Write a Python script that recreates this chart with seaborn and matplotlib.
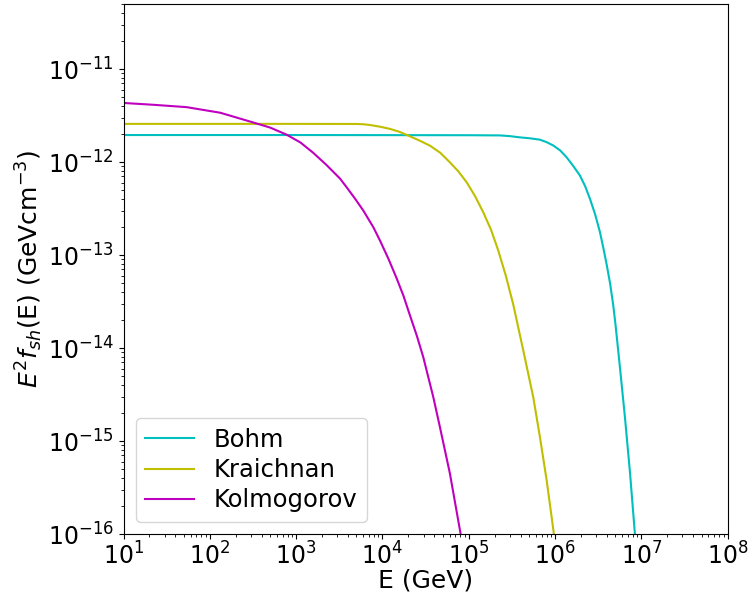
import numpy as np
import pandas as pd
import matplotlib
matplotlib.use("Agg")
import matplotlib.pyplot as plt
import seaborn as sns

# log10(E / GeV) and log10(E^2 f_sh / GeV cm^-3) for each diffusion model
bohm_log_e = [1.0, 3.0, 5.0, 5.363, 5.48, 5.594, 5.71, 5.826, 5.90, 5.980,
              6.06, 6.136, 6.21, 6.290, 6.35, 6.406, 6.465, 6.522, 6.56,
              6.599, 6.64, 6.676, 6.703, 6.753, 6.811, 6.869, 6.927]
bohm_log_f = [-11.710, -11.710, -11.712, -11.714, -11.722, -11.735, -11.745,
              -11.760, -11.785, -11.822, -11.875, -11.950, -12.040, -12.146,
              -12.260, -12.396, -12.560, -12.755, -12.920, -13.100, -13.310,
              -13.542, -13.757, -14.205, -14.742, -15.330, -16.0]

kraichnan_log_e = [1.0, 3.0, 3.702, 3.78, 3.856, 3.97, 4.088, 4.20, 4.300,
                   4.42, 4.551, 4.67, 4.782, 4.88, 4.977, 5.07, 5.169, 5.26,
                   5.343, 5.43, 5.517, 5.633, 5.749, 5.826, 5.904, 5.988]
kraichnan_log_f = [-11.590, -11.590, -11.591, -11.594, -11.602, -11.620,
                   -11.644, -11.676, -11.716, -11.765, -11.824, -11.900,
                   -12.003, -12.100, -12.218, -12.360, -12.540, -12.730,
                   -12.951, -13.220, -13.532, -14.026, -14.530, -14.957,
                   -15.422, -16.0]

kolmogorov_log_e = [1.0, 1.35, 1.73, 2.12, 2.50, 2.70, 2.89, 3.05, 3.196,
                    3.35, 3.509, 3.586, 3.68, 3.779, 3.895, 3.972, 4.07,
                    4.166, 4.245, 4.320, 4.40, 4.474, 4.590, 4.667, 4.783,
                    4.907]
kolmogorov_log_f = [-11.365, -11.385, -11.410, -11.470, -11.574, -11.630,
                    -11.706, -11.790, -11.899, -12.030, -12.178, -12.272,
                    -12.390, -12.522, -12.701, -12.844, -13.040, -13.252,
                    -13.440, -13.650, -13.870, -14.098, -14.527, -14.850,
                    -15.350, -16.0]

models = ["Bohm", "Kraichnan", "Kolmogorov"]
colors = {"Bohm": "c", "Kraichnan": "y", "Kolmogorov": "m"}

frames = []
for name, le, lf in [("Bohm", bohm_log_e, bohm_log_f),
                     ("Kraichnan", kraichnan_log_e, kraichnan_log_f),
                     ("Kolmogorov", kolmogorov_log_e, kolmogorov_log_f)]:
    frames.append(pd.DataFrame({
        "E": 10.0 ** np.asarray(le),
        "flux": 10.0 ** np.asarray(lf),
        "model": name,
    }))
df = pd.concat(frames, ignore_index=True)

tick_fs = 17
label_fs = 18
legend_fs = 17.5

fig = plt.figure(figsize=(7.5, 5.97), dpi=100)
ax = fig.add_axes([0.1647, 0.1055, 0.8053, 0.8878])

sns.lineplot(data=df, x="E", y="flux", hue="model", hue_order=models,
             palette=colors, sort=False, estimator=None, linewidth=1.5, ax=ax)

ax.set_xscale("log")
ax.set_yscale("log")
ax.set_xlim(1e1, 1e8)
ax.set_ylim(1e-16, 5e-11)
ax.set_xticks([10.0 ** k for k in range(1, 9)])
ax.set_yticks([10.0 ** k for k in range(-16, -10)])
ax.tick_params(axis="both", which="major", labelsize=tick_fs)
ax.tick_params(axis="x", which="major", pad=2.5)

ax.set_xlabel("E (GeV)", fontsize=label_fs, labelpad=-0.5)
ax.set_ylabel(r"$E^2f_{sh}$(E) (GeVcm$^{-3}$)", fontsize=label_fs,
              labelpad=2)

handles, labels = ax.get_legend_handles_labels()
ax.legend(handles, labels, loc="lower left", fontsize=legend_fs,
          handlelength=2.0, labelspacing=0.25)

fig.savefig("out.png", dpi=100)
